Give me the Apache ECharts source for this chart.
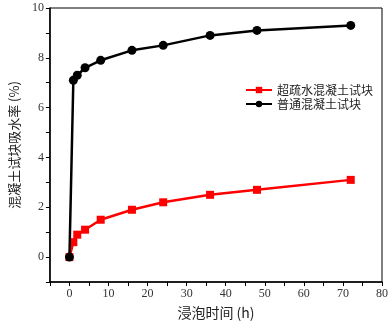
<!DOCTYPE html>
<html>
<head>
<meta charset="utf-8">
<script src="https://cdn.jsdelivr.net/npm/echarts@6/dist/echarts.min.js"></script>
<style>
  html, body { margin: 0; padding: 0; background: #fff; }
  #chart { width: 391px; height: 325px; }
</style>
</head>
<body>
<div id="chart"></div>
<script>
// 浸泡时间 (h)
var hours = [0, 1, 2, 4, 8, 16, 24, 36, 48, 72];
// 超疏水混凝土试块 吸水率 (%)
var superValues = [0, 0.6, 0.9, 1.1, 1.5, 1.9, 2.2, 2.5, 2.7, 3.1];
// 普通混凝土试块 吸水率 (%)
var normalValues = [0, 7.1, 7.3, 7.6, 7.9, 8.3, 8.5, 8.9, 9.1, 9.3];
var seriesNames = ['超疏水混凝土试块', '普通混凝土试块'];

function pairs(xs, ys) {
  return xs.map(function (x, i) { return [x, ys[i]]; });
}

var chart = echarts.init(document.getElementById('chart'));

var serifFont = '"Liberation Serif", "Noto Sans CJK SC", serif';

var option = {
  animation: false,
  backgroundColor: '#fff',
  grid: {
    left: 42, right: 9, top: 8, bottom: 42,
    show: true, borderColor: '#000', borderWidth: 1
  },
  legend: {
    orient: 'vertical',
    left: 240, top: 79,
    itemWidth: 26, itemHeight: 8, itemGap: 2,
    textStyle: { fontSize: 12, lineHeight: 12, color: '#222', fontFamily: '"Noto Sans CJK SC", sans-serif' },
    data: seriesNames
  },
  xAxis: {
    type: 'value',
    min: -5, max: 80, interval: 5,
    name: '浸泡时间 (h)',
    nameLocation: 'middle', nameGap: 24,
    nameTextStyle: { fontSize: 14, color: '#222', fontFamily: '"Noto Sans CJK SC", sans-serif' },
    axisLine: { onZero: false, lineStyle: { color: '#000', width: 1.5 } },
    axisTick: { inside: false, length: 4, lineStyle: { color: '#000' } },
    axisLabel: {
      fontSize: 12, color: '#333', fontFamily: serifFont, margin: 6,
      formatter: function (v) { return v % 10 === 0 ? String(v) : ''; }
    },
    splitLine: { show: false }
  },
  yAxis: {
    type: 'value',
    min: -1, max: 10, interval: 1,
    name: '混凝土试块吸水率 (%)',
    nameLocation: 'middle', nameGap: 27, nameRotate: 90,
    nameTextStyle: { fontSize: 13, color: '#222', fontFamily: '"Noto Sans CJK SC", sans-serif' },
    axisLine: { onZero: false, lineStyle: { color: '#000', width: 1.5 } },
    axisTick: { inside: false, length: 4, lineStyle: { color: '#000' } },
    axisLabel: {
      fontSize: 12, color: '#333', fontFamily: serifFont, margin: 6,
      formatter: function (v) { return (v >= 0 && v % 2 === 0) ? String(v) : ''; }
    },
    splitLine: { show: false }
  },
  series: [
    {
      name: seriesNames[0],
      type: 'line',
      data: pairs(hours, superValues),
      symbol: 'rect', symbolSize: 8,
      lineStyle: { color: '#ff0000', width: 2.5 },
      itemStyle: { color: '#ff0000' },
      z: 2
    },
    {
      name: seriesNames[1],
      type: 'line',
      data: pairs(hours, normalValues),
      symbol: 'circle', symbolSize: 9,
      lineStyle: { color: '#000', width: 2.5 },
      itemStyle: { color: '#000' },
      z: 3
    }
  ]
};

chart.setOption(option);
</script>
</body>
</html>
